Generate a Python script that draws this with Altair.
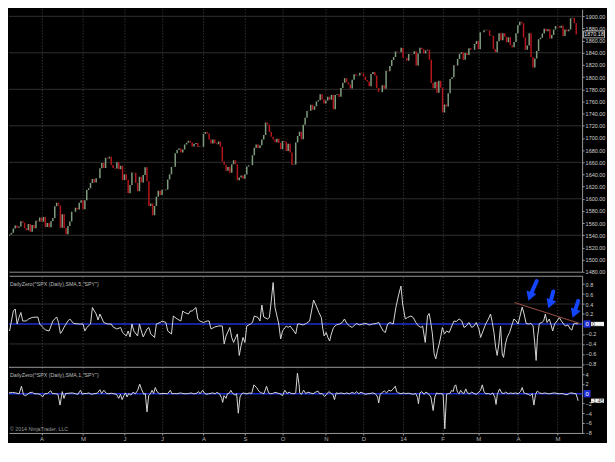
import json
import altair as alt
import pandas as pd

# ---------------- data ----------------
# daily closes, ^SPX, 1 Mar 2013 .. 15 May 2014
closes = [
    1518.20, 1525.20, 1539.79, 1541.46, 1544.26, 1551.18, 1556.22, 1552.48, 1554.52, 1563.23,
    1560.70, 1552.10, 1548.34, 1558.71, 1545.80, 1556.89, 1551.69, 1563.77, 1562.85, 1569.19,
    1562.17, 1570.25, 1553.69, 1559.98, 1553.28, 1563.07, 1568.61, 1587.73, 1593.37, 1588.85,
    1552.36, 1574.57, 1552.01, 1541.61, 1555.25, 1562.50, 1578.78, 1578.79, 1585.16, 1582.24,
    1593.61, 1597.57,
    1582.70, 1597.59, 1614.42, 1617.50, 1625.96, 1632.69, 1626.67, 1633.70, 1633.77, 1650.34,
    1658.78, 1650.47, 1667.47, 1666.29, 1669.16, 1655.35, 1650.51, 1649.60, 1660.06, 1648.36,
    1654.41, 1630.74,
    1640.42, 1631.38, 1608.90, 1622.56, 1643.38, 1642.81, 1626.13, 1612.52, 1636.36, 1626.73,
    1639.04, 1651.81, 1628.93, 1588.19, 1592.43, 1573.09, 1588.03, 1603.26, 1613.20, 1606.28,
    1614.96, 1614.08, 1615.41, 1631.89, 1640.46, 1652.32, 1652.62, 1675.02, 1680.19, 1682.50,
    1676.26, 1680.91, 1689.37, 1692.09, 1695.53, 1692.39, 1685.94, 1690.25, 1691.65, 1685.33,
    1685.96, 1685.73,
    1706.87, 1709.67, 1707.14, 1697.37, 1690.91, 1697.48, 1691.42, 1689.47, 1694.16, 1685.39,
    1661.32, 1655.83, 1646.06, 1652.35, 1642.80, 1656.96, 1663.50, 1656.78, 1630.48, 1634.96,
    1638.17, 1632.97,
    1639.77, 1653.08, 1655.08, 1655.17, 1671.71, 1683.99, 1689.13, 1683.42, 1687.99, 1697.60,
    1704.76, 1725.52, 1722.34, 1709.91, 1701.84, 1697.42, 1692.77, 1698.67, 1691.75, 1681.55,
    1695.00, 1693.87, 1678.66, 1690.50, 1676.12, 1655.45, 1656.40, 1692.56, 1703.20, 1710.14,
    1698.06, 1721.54, 1733.15, 1744.50, 1744.66, 1754.67, 1746.38, 1752.07, 1759.77, 1762.11,
    1771.95, 1763.31, 1756.54,
    1761.64, 1767.93, 1762.97, 1770.49, 1747.15, 1770.61, 1771.89, 1767.69, 1782.00, 1790.62,
    1798.18, 1791.53, 1787.87, 1781.37, 1795.85, 1804.76, 1802.48, 1802.75, 1807.23, 1805.81,
    1800.90, 1795.15, 1792.81, 1785.03, 1805.09, 1808.37, 1802.62, 1782.22, 1775.50, 1775.32,
    1786.54, 1781.00, 1810.65, 1809.60, 1818.32, 1827.99, 1833.32, 1842.02, 1841.40, 1841.07,
    1848.36,
    1831.98, 1831.37, 1826.77, 1837.88, 1837.49, 1838.13, 1842.37, 1819.20, 1838.88, 1848.38,
    1845.89, 1838.70, 1843.80, 1844.86, 1828.46, 1790.29, 1781.56, 1792.50, 1774.20, 1794.19,
    1782.59,
    1741.89, 1755.20, 1751.64, 1773.43, 1797.02, 1799.84, 1819.75, 1819.26, 1829.83, 1838.63,
    1840.76, 1828.75, 1839.78, 1836.25, 1847.61, 1845.12, 1845.16, 1854.29, 1859.45,
    1845.73, 1873.91, 1873.81, 1877.03, 1878.04, 1877.17, 1867.63, 1868.20, 1846.34, 1841.13,
    1858.83, 1872.25, 1860.77, 1872.01, 1866.52, 1857.44, 1865.62, 1852.56, 1849.04, 1857.62,
    1872.34,
    1885.52, 1890.90, 1888.77, 1865.09, 1845.04, 1851.96, 1872.18, 1833.08, 1815.69, 1830.61,
    1842.98, 1862.31, 1864.85, 1871.89, 1879.55, 1875.39, 1878.61, 1863.40, 1869.43, 1878.33,
    1883.95,
    1883.68, 1881.14, 1884.66, 1867.72, 1878.21, 1875.63, 1878.48, 1896.65, 1897.45, 1888.53,
    1870.18,
]
first_open = 1514.68

# first bar of each month (bar index) and its label
month_idx = [20, 42, 64, 84, 106, 128, 148, 171, 191, 212, 233, 252, 273, 294]
month_lbl = ["A", "M", "J", "J", "A", "S", "O", "N", "D", "14", "F", "M", "A", "M"]

price_grid = [1480, 1540, 1600, 1660, 1720, 1780, 1840, 1900]
price_ticks = [1480, 1500, 1520, 1540, 1560, 1580, 1600, 1620, 1640, 1660, 1680, 1700,
               1720, 1740, 1760, 1780, 1800, 1820, 1840, 1860, 1880, 1900, 1920]

# DailyZero SMA 5 (middle panel): bar index, value
mid_i = [0, 1, 2, 3, 5, 6, 7, 8, 9, 10, 12, 13, 15, 18, 19, 20, 22, 24, 25, 26, 28, 29, 30, 31, 32,
         34, 35, 37, 40, 42, 43, 44, 46, 47, 49, 50, 51, 53, 55, 57, 58, 60, 62, 63, 65, 66, 67, 68,
         69, 71, 72, 73, 74, 76, 77, 78, 80, 81, 83, 84, 86, 87, 89, 90, 92, 94, 95, 96, 98, 99, 100,
         102, 103, 104, 106, 108, 109, 110, 112, 114, 116, 117, 118, 120, 121, 122, 124, 125, 126,
         127, 128, 129, 131, 132, 133, 135, 136, 137, 138, 140, 141, 142, 143, 144, 146, 147, 148,
         150, 151, 152, 154, 155, 156,
         157.1, 158.9, 160.6, 162.4, 163.4, 164.5, 165.9, 167.3, 168.6, 169.4, 170.1, 171.2, 172.1,
         173.0, 173.9, 175.1, 176.5, 178.3, 179.7, 180.9, 182.1, 183.6, 185.0, 186.2, 187.4, 188.8,
         190.6, 192.4, 194.1, 195.9, 197.7, 199.1, 200.3, 201.5, 202.6, 203.8, 205.1, 206.8, 208.2,
         209.7, 210.9, 211.8, 213.2, 214.4, 216.2, 217.4, 218.8, 220.2, 221.5, 222.4, 223.8, 225.0,
         225.9, 226.8, 227.6, 228.5, 229.4, 230.3, 231.2, 232.1, 232.9, 234.0, 235.1, 236.5, 237.9,
         239.1, 240.3, 241.8, 243.2, 244.4, 245.6, 247.0, 248.5, 249.7, 250.9, 252.3, 253.2, 254.5,
         255.9, 257.1, 258.5, 259.4, 260.3, 261.2, 262.0, 262.9, 263.8, 264.7, 265.4, 266.4, 267.3,
         268.6, 270.0, 270.9, 272.1, 273.1, 274.4, 275.3, 276.3, 277.4, 278.8, 280.0, 281.1, 282.0,
         282.7, 283.4, 284.4, 285.8, 286.7, 287.6, 288.5, 289.7, 290.8, 291.5, 292.5, 293.8, 295.0,
         296.1, 297.3, 298.2, 299.6, 300.8, 301.7, 302.6, 303.8, 305.0]
mid_v = [-0.20, -0.04, -0.10, -0.14, 0.26, 0.30, 0.00, 0.13, 0.23, 0.06, 0.06, 0.10, 0.13, 0.14,
         0.00, -0.04, -0.12, -0.14, -0.04, 0.06, 0.14, 0.03, -0.19, -0.14, -0.06, 0.06, 0.10, 0.01,
         0.00, 0.00, -0.14, -0.07, 0.00, 0.33, 0.20, 0.08, 0.20, 0.03, 0.00, 0.00, -0.06, -0.10,
         -0.07, -0.17, -0.24, -0.14, -0.26, 0.00, -0.14, -0.24, 0.00, -0.14, -0.26, -0.10, -0.07,
         -0.20, -0.27, 0.00, 0.03, 0.06, 0.03, -0.14, -0.20, 0.16, 0.10, 0.06, 0.26, 0.23, 0.20,
         0.26, 0.26, 0.33, 0.10, 0.06, 0.03, 0.06, 0.06, -0.10, -0.06, -0.04, -0.04, -0.40, -0.24,
         -0.07, -0.27, -0.37, -0.20, -0.63, -0.43, -0.27, -0.37, -0.04, 0.00, 0.03, 0.16, 0.13,
         0.06, 0.38, 0.14, 0.10, 0.13, 0.46, 0.83, 0.33, 0.00, -0.30, -0.14, -0.04, -0.07, -0.04,
         -0.14, -0.20, 0.00,
         0.00, -0.02, 0.01, 0.06, 0.26, 0.48, 0.36, 0.23, 0.13, -0.10, -0.24, -0.17, -0.27, -0.34,
         -0.20, -0.07, -0.02, 0.00, 0.03, 0.10, 0.01, -0.04, -0.07, -0.02, 0.01, -0.02, 0.00, 0.01,
         -0.02, 0.00, 0.01, 0.03, -0.06, -0.14, -0.17, 0.00, 0.03, 0.00, 0.33, 0.59, 0.76, 0.40,
         0.10, 0.13, 0.16, 0.13, 0.03, -0.04, -0.07, -0.04, -0.37, 0.16, 0.21, 0.01, -0.20, -0.59,
         -0.70, -0.53, -0.40, -0.24, -0.07, -0.20, -0.14, -0.17, -0.04, 0.06, 0.05, 0.10, 0.06,
         -0.07, -0.04, 0.03, -0.07, -0.04, 0.03, -0.10, -0.27, -0.14, 0.00, 0.08, 0.20, 0.03, -0.17,
         -0.47, -0.63, -0.40, -0.04, -0.60, -0.67, -0.40, -0.27, -0.17, 0.00, 0.10, 0.06, 0.00,
         0.20, 0.34, 0.20, 0.01, 0.00, 0.01, -0.04, -0.40, -0.73, -0.27, 0.01, 0.03, 0.06, 0.20,
         0.03, 0.10, -0.04, -0.14, 0.00, 0.06, 0.13, 0.06, 0.00, -0.04, -0.02, -0.10, -0.12, 0.00,
         0.01, 0.0005]

# DailyZero SMA 1 (bottom panel): bar index, value
bot_i = [0.2, 1.9, 2.8, 4.6, 6.3, 8.1, 9.3, 10.4, 11.6, 13.4, 15.2, 16.0, 17.8, 19.2, 20.5, 21.7,
         23.1, 24.9, 25.7, 27.5, 28.7, 29.8, 31.0, 31.9, 32.8, 34.6, 36.3, 38.1, 39.3, 40.7, 41.6,
         42.5, 43.9, 45.1, 46.4, 47.8, 49.6, 51.0, 51.9, 53.1, 54.5, 55.7, 57.0, 58.4, 59.8, 61.0,
         61.9, 62.8, 63.7, 64.6, 65.4, 66.3, 67.5, 68.6, 69.8, 71.1, 72.1, 73.0, 74.3, 75.1, 76.0,
         76.9, 77.8, 78.7, 79.5, 80.4, 81.3, 82.7, 84.5, 85.7, 86.9, 88.4, 89.2, 90.5, 91.9, 93.7,
         95.1, 96.3, 98.1, 99.3, 100.7, 102.1, 103.4, 104.2, 105.6, 106.7, 107.8, 108.6, 109.5,
         110.9, 112.2, 113.1, 114.5, 115.7, 116.2, 116.9, 118.0, 118.7, 119.8, 120.5, 121.5, 122.8,
         123.6, 124.5, 125.4, 126.3, 127.2, 128.0, 129.3, 130.3, 131.6, 132.8, 134.2, 135.6, 136.9,
         138.1, 139.5, 140.6, 141.6, 142.7, 143.9, 145.1, 146.6, 148.0, 149.2, 150.4, 151.5, 152.7,
         154.0, 155.0, 155.9, 156.8,
         157.1, 158.0, 159.2, 160.3, 161.5, 162.7, 164.2, 165.6, 166.8, 167.7, 169.1, 170.3, 171.2,
         172.6, 173.9, 174.7, 175.6, 176.5, 177.9, 179.1, 180.9, 182.1, 183.6, 185.0, 186.2, 187.4,
         188.5, 189.7, 191.0, 192.0, 193.3, 194.5, 195.9, 197.3, 198.5, 199.1, 199.8, 201.2, 202.1,
         203.3, 204.4, 205.6, 206.8, 207.9, 208.6, 209.7, 210.9, 212.1, 213.5, 215.0, 216.2, 217.4,
         218.8, 219.7, 220.2, 220.9, 222.0, 223.2, 224.1, 225.5, 226.8, 228.0, 228.9, 229.8, 230.8,
         232.1, 233.3, 234.2, 235.1, 236.1, 236.8, 237.9, 238.6, 239.3, 240.0, 240.9, 241.8, 242.6,
         243.5, 244.4, 245.3, 246.2, 247.4, 248.5, 249.7, 250.9, 252.3, 253.2, 254.1, 255.0, 255.9,
         257.3, 258.5, 259.7, 260.8, 261.4,
         262.1, 263.3, 264.4, 265.6, 266.5, 267.9, 269.2, 270.4, 271.8, 273.2, 274.4, 275.3, 276.2,
         277.1, 278.5, 279.7, 280.6, 281.5, 282.4, 283.3, 284.5, 285.9, 287.3, 288.6, 289.8, 291.2,
         292.6, 293.8, 295.1, 296.5, 297.9, 299.1, 300.4, 301.8, 302.9, 303.9, 305.0]
bot_v = [0.04, 0.99, 0.16, 0.27, 0.16, -0.01, 1.54, -0.23, -0.40, 0.16, 0.32, -0.01, -0.01, -0.12,
         -0.68, -0.01, 0.04, 0.60, 0.04, -0.01, -0.12, -2.34, 0.43, -0.96, 0.04, 0.10, 0.16, -0.01,
         -0.12, 0.71, -0.12, 0.04, 0.04, 0.16, -0.12, -0.01, 0.10, 0.82, 0.04, 0.71, 0.04, -0.01,
         0.10, -0.01, -0.12, -0.96, -0.12, -1.23, -0.40, 0.16, -0.68, 0.04, -0.29, 0.32, -0.01, 0.71,
         1.99, 0.99, -0.12, 0.04, -3.73, -0.40, -0.01, 0.71, 0.04, 1.27, 0.43, -0.01, 0.04, 0.04,
         -0.01, 0.71, -0.01, 0.04, -0.01, 0.16, 0.04, -0.01, 0.04, 0.16, -0.01, 0.04, 0.43, -0.01,
         0.71, 0.04, -0.12, -0.01, 0.04, 0.16, -0.01, 0.27, -0.01, -0.96, -1.79, -0.40, -0.96, -0.01,
         0.16, 0.71, 0.04, -0.29, -0.01, -4.01, -0.68, -0.01, 0.16, 0.04, -0.01, 0.16, 0.04, 1.82,
         1.27, 0.43, 0.16, -0.01, 1.54, 0.16, -0.01, 0.04, 0.27, 0.16, -0.01, -0.40, 0.71, 0.04,
         0.32, 0.04, -0.01, 0.16, 4.21, 1.82,
         0.16, -0.12, 0.71, 0.04, 0.32, 0.16, -0.01, 0.32, 0.54, -0.01, 0.04, -0.57, -0.23, 0.43,
         0.04, -0.12, -1.23, 0.16, 0.04, 0.16, -0.01, 0.16, -0.01, 0.27, 0.04, 0.43, -0.01, 0.32,
         0.04, -0.12, -0.01, 0.04, 0.16, -0.01, -0.68, -1.90, -0.12, 0.32, 0.54, 0.16, 0.71, 0.54,
         0.99, 1.54, 0.43, 0.16, -0.01, 0.16, 0.04, 0.10, -0.01, -0.12, 0.04, -0.79, -2.07, 0.16,
         0.43, -0.12, 0.32, -0.01, -0.68, -3.46, -0.68, 0.16, -0.01, 0.04, -0.12, -7.23, -0.12, 0.04,
         -0.01, 0.71, 0.43, 1.54, 1.82, 0.32, -0.01, 0.71, 0.16, 0.04, 0.99, 0.16, -0.01, 0.32, 0.04,
         -0.12, 0.32, 0.71, 1.82, 0.43, -0.01, 0.04, -0.12, 0.16, -0.79, -2.20,
         -0.12, 0.99, 0.16, 0.04, 0.32, -0.01, 0.16, 0.04, 0.16, -0.01, 0.43, 1.27, 0.16, 0.04,
         -0.12, -0.40, 0.04, -2.34, -0.12, 0.54, 0.16, 0.04, 0.16, 0.04, -0.01, 0.10, 0.16, 0.04,
         -0.01, 0.04, -0.12, -0.23, 0.10, 0.16, 0.04, -0.01, -1.45]

# hand-drawn annotations in the middle panel
trend_i = [271.2, 305.9]
trend_v = [0.43, 0.01]
arrow_tail_i = [283.0, 291.8, 305.0]
arrow_tail_v = [0.86, 0.65, 0.46]
arrow_head_i = [279.4, 290.0, 302.9]
arrow_head_v = [0.55, 0.40, 0.21]

mid_grid = [0.4, -0.4]
mid_ticks = [0.8, 0.6, 0.4, 0.2, -0.2, -0.4, -0.6, -0.8]
bot_ticks = [4, 2, -2, -4, -6, -8]

mid_label = 'DailyZero(^SPX (Daily),SMA,5,"SPY")'
bot_label = 'DailyZero(^SPX (Daily),SMA,1,"SPY")'
copyright_txt = "\u00a9 2014 NinjaTrader, LLC"
mid_last_txt = "0.000479"

# ---------------- styling / layout ----------------
FONT = "Liberation Sans"
W = 576
H_TOP, H_MID, H_BOT = 264, 92, 66
X_DOM = [2.696, 307.13]
TOP_DOM = [1480, 1911.9]
MID_DOM = [-0.867, 0.966]
BOT_DOM = [-8.07, 5.43]
UP, DOWN = "#7f9c7f", "#b3161c"
BLUE = "#1f2fd2"
ARROW = "#1446ff"
AXC = "#9a9a9a"
LBL = "#cfcfcf"
HGRID = "#2f2f2f"
VGRID = "#5e5e5e"

xs = alt.Scale(domain=X_DOM, nice=False, zero=False)
ytop = alt.Scale(domain=TOP_DOM, nice=False, zero=False)
ymid = alt.Scale(domain=MID_DOM, nice=False, zero=False)
ybot = alt.Scale(domain=BOT_DOM, nice=False, zero=False)

top_x = alt.Axis(values=month_idx, tickCount=100, grid=True, labels=False, ticks=False,
                 domain=True, domainColor=AXC, title=None, gridColor=VGRID, gridDash=[1, 2],
                 gridWidth=0.8)
mid_x = alt.Axis(orient="top", values=month_idx, tickCount=100, grid=True, labels=False,
                 ticks=False, domain=True, domainColor=AXC, title=None, gridColor=VGRID,
                 gridDash=[1, 2], gridWidth=0.8)
label_expr = "%s[indexof(%s, datum.value)]" % (json.dumps(month_lbl).replace('"', "'"),
                                               json.dumps(month_idx))
bot_x = alt.Axis(values=month_idx, tickCount=100, grid=True, gridColor=VGRID, gridDash=[1, 2],
                 gridWidth=0.8, labels=True, labelExpr=label_expr, ticks=True, tickSize=2,
                 tickColor=AXC, domain=True, domainColor=AXC, title=None, labelFont=FONT,
                 labelFontSize=6, labelColor="#b4b4b4", labelPadding=0.5, labelFlush=False,
                 labelOverlap=False)


def yaxis(values, fmt):
    return alt.Axis(orient="right", values=values, tickCount=100, format=fmt, title=None,
                    grid=False, domain=True, domainColor=AXC, tickColor=AXC, tickSize=2,
                    labelPadding=1, labelColor=LBL, labelFont=FONT, labelFontSize=5.5,
                    labelOverlap=False, labelFlush=False)


RECT_WIDE = "M-1,-0.33H1V0.33H-1Z"
RECT_SQ = "M-1,-1.05H1V1.05H-1Z"

# ---------------- top panel: price ----------------
bars = pd.DataFrame({"i": list(range(len(closes))), "close": closes,
                     "open": [first_open] + closes[:-1]})
bars["dir"] = ["up" if c >= o else "down" for o, c in zip(bars["open"], bars["close"])]

pgrid = alt.Chart(pd.DataFrame({"p": price_grid})).mark_rule(color=HGRID, strokeWidth=1).encode(
    y=alt.Y("p:Q", scale=ytop, axis=yaxis(price_ticks, ".2f")))
candles = alt.Chart(bars).mark_rule(strokeWidth=1.5, clip=True).encode(
    x=alt.X("i:Q", scale=xs, axis=top_x),
    y=alt.Y("open:Q", scale=ytop),
    y2="close:Q",
    color=alt.Color("dir:N", scale=alt.Scale(domain=["up", "down"], range=[UP, DOWN]), legend=None),
)
last_df = pd.DataFrame({"p": [closes[-1]], "t": ["%.2f" % closes[-1]]})
pbox = alt.Chart(last_df).mark_point(shape=RECT_WIDE, filled=True, fill="#000000", stroke="#d6d6d6",
                                     strokeWidth=0.8, size=441, opacity=1).encode(
    x=alt.value(588), y=alt.Y("p:Q", scale=ytop))
ptxt = alt.Chart(last_df).mark_text(font=FONT, fontSize=5.5, color="#e6e6e6", align="center",
                                    baseline="middle").encode(
    x=alt.value(588), y=alt.Y("p:Q", scale=ytop), text="t:N")
top = alt.layer(pgrid, candles, pbox, ptxt).properties(width=W, height=H_TOP)

# ---------------- middle panel ----------------
mid_df = pd.DataFrame({"i": mid_i, "v": mid_v})
mgrid = alt.Chart(pd.DataFrame({"g": mid_grid})).mark_rule(color=HGRID, strokeWidth=1).encode(
    y=alt.Y("g:Q", scale=ymid, axis=yaxis(mid_ticks, ".1f")))
mzero = alt.Chart(pd.DataFrame({"z": [0.0]})).mark_rule(color=BLUE, strokeWidth=1.5).encode(
    y=alt.Y("z:Q", scale=ymid))
mline = alt.Chart(mid_df).mark_line(color="#d6d6d6", strokeWidth=1, clip=True).encode(
    x=alt.X("i:Q", scale=xs, axis=mid_x), y=alt.Y("v:Q", scale=ymid))
trend = alt.Chart(pd.DataFrame({"i": trend_i, "v": trend_v})).mark_line(
    color="#8e4a3e", strokeWidth=1.2).encode(
    x=alt.X("i:Q", scale=xs), y=alt.Y("v:Q", scale=ymid))
arr = pd.DataFrame({"ti": arrow_tail_i, "tv": arrow_tail_v, "hi": arrow_head_i, "hv": arrow_head_v})
shafts = alt.Chart(arr).mark_rule(color=ARROW, strokeWidth=4, strokeCap="round").encode(
    x=alt.X("ti:Q", scale=xs), y=alt.Y("tv:Q", scale=ymid), x2="hi:Q", y2="hv:Q")
heads = alt.Chart(arr).mark_point(shape="triangle-up", filled=True, size=110, color=ARROW,
                                  opacity=1, angle=200).encode(
    x=alt.X("hi:Q", scale=xs), y=alt.Y("hv:Q", scale=ymid))
mlab = alt.Chart(pd.DataFrame({"t": [mid_label]})).mark_text(
    font=FONT, fontSize=5.3, color="#bdbdbd", align="left", baseline="middle").encode(
    x=alt.value(1), y=alt.value(8), text="t:N")
mb_df = pd.DataFrame({"v": [0.0], "z": ["0"], "t": [mid_last_txt]})
mbadge = alt.Chart(mb_df).mark_point(shape=RECT_SQ, filled=True, color=BLUE, size=49,
                                     opacity=1).encode(
    x=alt.value(581), y=alt.Y("v:Q", scale=ymid))
mbadge_t = alt.Chart(mb_df).mark_text(font=FONT, fontSize=6, color="#ffffff", align="center",
                                      baseline="middle").encode(
    x=alt.value(581), y=alt.Y("v:Q", scale=ymid), text="z:N")
mwbox = alt.Chart(mb_df).mark_point(shape=RECT_WIDE, filled=True, color="#f4f4f4", size=169,
                                    opacity=1).encode(
    x=alt.value(591.5), y=alt.Y("v:Q", scale=ymid))
mwbox_t = alt.Chart(mb_df).mark_text(font=FONT, fontSize=5.3, color="#333333", align="left",
                                     baseline="middle", limit=12, ellipsis="").encode(
    x=alt.value(586), y=alt.Y("v:Q", scale=ymid), text="t:N")
mid = alt.layer(mgrid, mzero, mline, trend, shafts, heads, mlab, mbadge, mbadge_t, mwbox,
                mwbox_t).properties(width=W, height=H_MID)

# ---------------- bottom panel ----------------
bot_df = pd.DataFrame({"i": bot_i, "v": bot_v})
bzero = alt.Chart(pd.DataFrame({"z": [0.0]})).mark_rule(color=BLUE, strokeWidth=1.5).encode(
    y=alt.Y("z:Q", scale=ybot, axis=yaxis(bot_ticks, "d")))
bsep = alt.Chart(pd.DataFrame({"s": [BOT_DOM[1]]})).mark_rule(color=AXC, strokeWidth=1).encode(
    y=alt.Y("s:Q", scale=ybot))
bline = alt.Chart(bot_df).mark_line(color="#d6d6d6", strokeWidth=1, clip=True).encode(
    x=alt.X("i:Q", scale=xs, axis=bot_x), y=alt.Y("v:Q", scale=ybot))
blab = alt.Chart(pd.DataFrame({"t": [bot_label]})).mark_text(
    font=FONT, fontSize=5.3, color="#bdbdbd", align="left", baseline="middle").encode(
    x=alt.value(1), y=alt.value(8), text="t:N")
bcopy = alt.Chart(pd.DataFrame({"t": [copyright_txt]})).mark_text(
    font=FONT, fontSize=5.3, color="#9a9a9a", align="left", baseline="middle").encode(
    x=alt.value(1), y=alt.value(62), text="t:N")
bb_df = pd.DataFrame({"z": [0.0], "zt": ["0"], "v": [bot_v[-1]], "t": ["%.2f" % bot_v[-1]]})
bbadge = alt.Chart(bb_df).mark_point(shape=RECT_SQ, filled=True, color=BLUE, size=49,
                                     opacity=1).encode(
    x=alt.value(581), y=alt.Y("z:Q", scale=ybot))
bbadge_t = alt.Chart(bb_df).mark_text(font=FONT, fontSize=6, color="#ffffff", align="center",
                                      baseline="middle").encode(
    x=alt.value(581), y=alt.Y("z:Q", scale=ybot), text="zt:N")
bwbox = alt.Chart(bb_df).mark_point(shape=RECT_WIDE, filled=True, color="#f4f4f4", size=169,
                                    opacity=1).encode(
    x=alt.value(591.5), y=alt.Y("v:Q", scale=ybot))
bwbox_t = alt.Chart(bb_df).mark_text(font=FONT, fontSize=5.3, color="#333333", align="center",
                                     baseline="middle").encode(
    x=alt.value(591.5), y=alt.Y("v:Q", scale=ybot), text="t:N")
bot = alt.layer(bzero, bsep, bline, blab, bcopy, bbadge, bbadge_t, bwbox, bwbox_t).properties(
    width=W, height=H_BOT)

chart = alt.vconcat(
    top,
    alt.vconcat(mid, bot, spacing=0, bounds="flush"),
    spacing=4, bounds="flush",
).properties(
    background="#000000",
    padding=0,
).configure_view(stroke="transparent", strokeWidth=0).configure_axis(labelFont=FONT)

chart.save("out.html", embed_options={"renderer": "svg", "actions": False})
